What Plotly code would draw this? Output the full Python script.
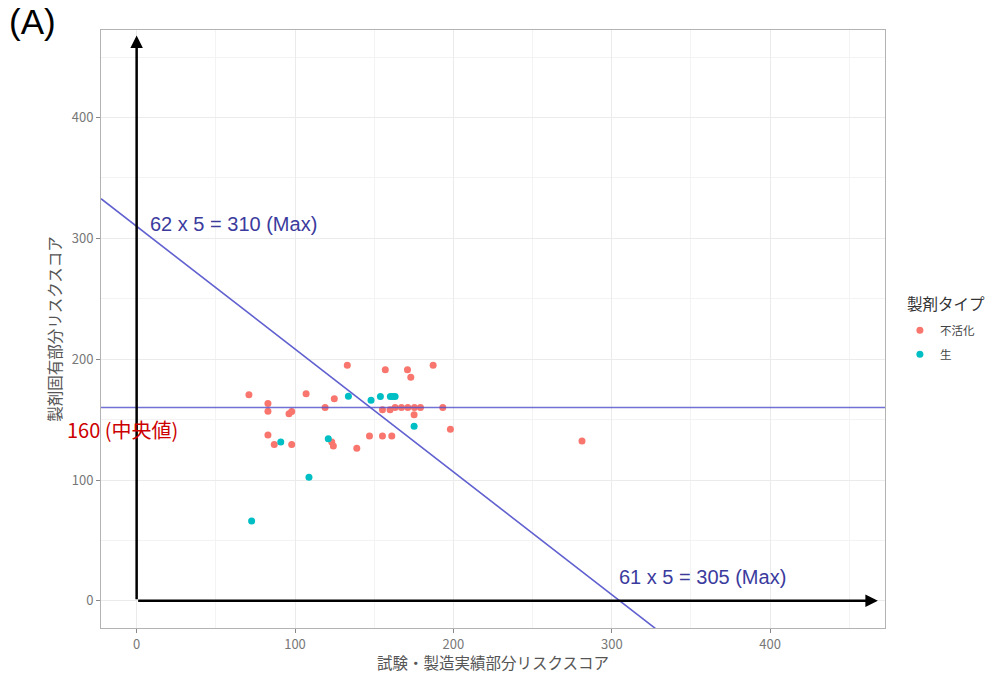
import plotly.graph_objects as go

# ---- data ----
inact_x = [70.9, 82.9, 82.9, 96.2, 97.9, 107, 119, 124.8, 82.9, 86.9, 97.9, 123.2, 124.2, 139,
           133, 157, 171, 173.1, 187.2, 155.2, 160, 163.2, 167.2, 171.2, 175.4, 179.2, 193.3,
           175.2, 198.1, 147, 155.2, 161.1, 281.2]
inact_y = [170.5, 163.4, 157.0, 154.9, 156.8, 171.4, 160, 167.3, 137.2, 129.3, 129.3, 131.4, 128.1, 126.2,
           195, 191.2, 191.2, 185.1, 195, 158.2, 158.2, 160, 160, 160, 160, 160, 160,
           154, 142.1, 136.4, 136.4, 136.4, 132.2]
live_x = [133.7, 148, 153.9, 160.2, 161.7, 163.2, 91, 121, 175.2, 108.8, 72.6]
live_y = [169.4, 166.1, 169.2, 169.2, 169.2, 169.2, 131.4, 134.2, 144.4, 102.2, 66.1]

series_names = ["不活化", "生"]
series_colors = ["#F8766D", "#00BFC4"]

median_y = 160
max_y = 310   # 62 x 5
max_x = 305   # 61 x 5
axis_range = [-22.5, 472.5]
arrow_end = 468

JP = "Noto Sans CJK JP"
LAT = "Liberation Sans, Arial"
line_col = "#4f4fcc"
text_col = "#3b3b9e"

fig = go.Figure()

fig.add_trace(go.Scatter(x=inact_x, y=inact_y, mode="markers", name=series_names[0],
                         legendgroup="a", marker=dict(color=series_colors[0], size=7)))
fig.add_trace(go.Scatter(x=live_x, y=live_y, mode="markers", name=series_names[1],
                         legendgroup="b", marker=dict(color=series_colors[1], size=7)))

# diagonal line through (0, max_y) and (max_x, 0)
lx = [axis_range[0], axis_range[1]]
ly = [max_y - max_y / max_x * v for v in lx]
fig.add_trace(go.Scatter(x=lx, y=ly, mode="lines", showlegend=False, hoverinfo="skip",
                         line=dict(color=line_col, width=1.6), opacity=0.9))
# median line
fig.add_trace(go.Scatter(x=axis_range, y=[median_y, median_y], mode="lines", showlegend=False,
                         hoverinfo="skip", line=dict(color=line_col, width=1.6), opacity=0.8))

# black axis arrows
fig.add_annotation(x=arrow_end, y=0, ax=0, ay=0, xref="x", yref="y", axref="x", ayref="y",
                   showarrow=True, arrowhead=2, arrowsize=1, arrowwidth=2.5, arrowcolor="black", text="")
fig.add_annotation(x=0, y=arrow_end, ax=0, ay=0, xref="x", yref="y", axref="x", ayref="y",
                   showarrow=True, arrowhead=2, arrowsize=1, arrowwidth=2.5, arrowcolor="black", text="")

fig.add_annotation(x=7, y=312, xref="x", yref="y", text="62 x 5 = 310 (Max)", showarrow=False,
                   xanchor="left", yanchor="middle", font=dict(family=LAT, size=20, color=text_col))
fig.add_annotation(x=303, y=20, xref="x", yref="y", text="61 x 5 = 305 (Max)", showarrow=False,
                   xanchor="left", yanchor="middle", font=dict(family=LAT, size=20, color=text_col))
fig.add_annotation(x=-9, y=142, xref="x", yref="y", text="160 (中央値)", showarrow=False,
                   xanchor="center", yanchor="middle", font=dict(family=JP, size=20, color="#cc0000"))
fig.add_annotation(x=-0.12, y=1.015, xref="paper", yref="paper", text="(A)", showarrow=False,
                   xanchor="left", yanchor="middle", font=dict(family=LAT, size=35, color="black"))
# legend title
fig.add_annotation(x=1.0255, y=0.543, xref="paper", yref="paper", text="製剤タイプ", showarrow=False,
                   xanchor="left", yanchor="middle", font=dict(family=JP, size=15.5, color="#333333"))

axis_common = dict(
    range=axis_range, dtick=100, tick0=0, showgrid=True, gridcolor="#ebebeb", gridwidth=1,
    zeroline=False, showline=True, linecolor="#b3b3b3", linewidth=1, mirror=True,
    ticks="outside", ticklen=4, tickcolor="#888888", automargin=False,
    tickfont=dict(family=JP, size=13, color="#777777"),
    minor=dict(showgrid=True, gridcolor="#f3f3f3", gridwidth=0.8, dtick=50, tick0=0, ticks=""),
)

fig.update_layout(
    width=987, height=673,
    margin=dict(l=101, r=102, t=30, b=45, autoexpand=False),
    plot_bgcolor="white", paper_bgcolor="white",
    font=dict(family=JP, color="#555555"),
    xaxis=dict(axis_common, title=dict(text="試験・製造実績部分リスクスコア", standoff=4,
                                       font=dict(family=JP, size=15.5, color="#555555"))),
    yaxis=dict(axis_common, title=dict(text="製剤固有部分リスクスコア", standoff=6,
                                       font=dict(family=JP, size=15.5, color="#555555"))),
    legend=dict(x=1.019, y=0.522, xanchor="left", yanchor="top", tracegroupgap=5,
                font=dict(family=JP, size=11.5, color="#444444"), bgcolor="rgba(0,0,0,0)"),
    showlegend=True,
)

fig.write_html("out.html")
